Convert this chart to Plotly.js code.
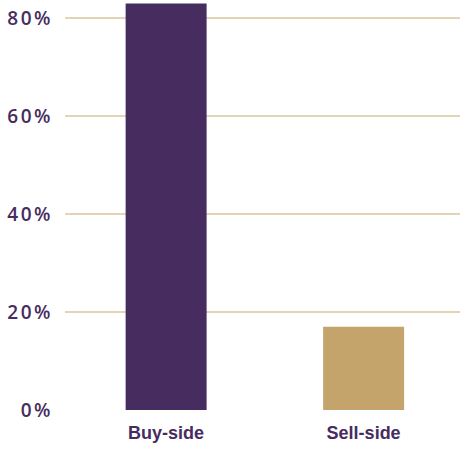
<!DOCTYPE html>
<html>
<head>
<meta charset="utf-8">
<script src="https://cdn.plot.ly/plotly-3.0.1.min.js"></script>
<style>
html,body{margin:0;padding:0;background:#fff;}
#chart{width:460px;height:449px;}
.ytick text{letter-spacing:2.5px;}
</style>
</head>
<body>
<div id="chart"></div>
<script>
const categories = ["Buy-side", "Sell-side"];
const values = [83, 17];
const barColors = ["#472c5f", "#c4a46b"];
const yTickVals = [0, 20, 40, 60, 80];
const yTickText = ["0%", "20%", "40%", "60%", "80%"];

const data = [{
  type: "bar",
  x: categories,
  y: values,
  marker: {color: barColors},
  hoverinfo: "skip"
}];

const layout = {
  width: 460,
  height: 449,
  margin: {l: 65, r: 0, t: 0, b: 39, pad: 0},
  paper_bgcolor: "#ffffff",
  plot_bgcolor: "#ffffff",
  bargap: 0.59,
  showlegend: false,
  font: {family: "Liberation Sans, Arial, sans-serif", color: "#472c5f"},
  xaxis: {
    range: [-0.512, 1.488],
    showgrid: false,
    zeroline: false,
    showline: false,
    ticks: "",
    ticklabelstandoff: 10,
    tickfont: {size: 18, weight: "bold", color: "#472c5f", family: "Liberation Sans, Arial, sans-serif"}
  },
  yaxis: {
    range: [0, 83.7],
    tickvals: yTickVals,
    ticktext: yTickText,
    showgrid: true,
    gridcolor: "#e3d4b6",
    gridwidth: 2,
    zeroline: false,
    showline: false,
    ticks: "",
    ticklabelstandoff: 11,
    tickfont: {size: 19, weight: 600, color: "#472c5f", family: "Open Sans, sans-serif"}
  }
};

Plotly.newPlot("chart", data, layout, {displayModeBar: false, staticPlot: true});
</script>
</body>
</html>
